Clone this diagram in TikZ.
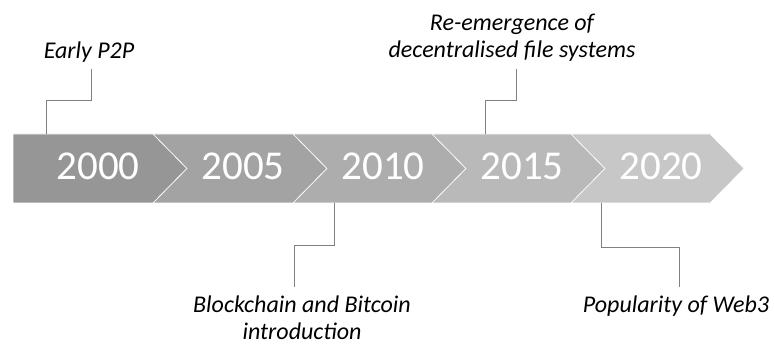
\documentclass[tikz,border=0pt]{standalone}
\usepackage{fontspec}
\setmainfont{Carlito}
\definecolor{band1}{RGB}{150,150,150}
\definecolor{band2}{RGB}{163,163,163}
\definecolor{band3}{RGB}{173,173,173}
\definecolor{band4}{RGB}{185,185,185}
\definecolor{band5}{RGB}{199,199,199}
\definecolor{leader}{RGB}{128,128,128}
\tikzset{
  chev/.style={draw=white, line width=0.6pt, line join=miter},
  yearlabel/.style={text=white, anchor=base, inner sep=0pt, font=\fontsize{41}{49}\selectfont},
  eventlabel/.style={text=black, anchor=base, inner sep=0pt, align=center,
    font=\fontsize{24}{27}\selectfont\itshape},
  leaderline/.style={draw=leader, line width=0.8pt}
}
\begin{document}
\begin{tikzpicture}[x=1pt, y=-1pt]
\useasboundingbox (0,0) rectangle (774,347);

% timeline band: one home plate followed by four chevrons
\fill[band1, chev] (13,134) -- (153,134) -- (187,168.5) -- (153,203) -- (13,203) -- cycle;
\fill[band2, chev] (153,134) -- (293,134) -- (327,168.5) -- (293,203) -- (153,203) -- (187,168.5) -- cycle;
\fill[band3, chev] (293,134) -- (432,134) -- (466,168.5) -- (432,203) -- (293,203) -- (327,168.5) -- cycle;
\fill[band4, chev] (432,134) -- (571,134) -- (605,168.5) -- (571,203) -- (432,203) -- (466,168.5) -- cycle;
\fill[band5, chev] (571,134) -- (710,134) -- (744,168.5) -- (710,203) -- (571,203) -- (605,168.5) -- cycle;

% years
\node[yearlabel] (y2000) at (98,180) {2000};
\node[yearlabel] (y2005) at (243,180) {2005};
\node[yearlabel] (y2010) at (383,180) {2010};
\node[yearlabel] (y2015) at (522,180) {2015};
\node[yearlabel] (y2020) at (661,180) {2020};

% events (base anchor sits on the last line)
\node[eventlabel] (p2p) at (89,59) {Early P2P};
\node[eventlabel] (dfs) at (512,58) {Re-emergence of\\decentralised file systems};
\node[eventlabel] (btc) at (302,340) {Blockchain and Bitcoin\\introduction};
\node[eventlabel] (web3) at (676,313) {Popularity of Web3};

% leader line end points
\coordinate (p2pband) at (46,134);
\coordinate (p2ptext) at (91,69);
\coordinate (dfsband) at (485,134);
\coordinate (dfstext) at (516,69);
\coordinate (btcband) at (334,203);
\coordinate (btctext) at (294,287);
\coordinate (webband) at (601,203);
\coordinate (webtext) at (679,287);

\draw[leaderline] (p2pband) -- (46,100) -| (p2ptext);
\draw[leaderline] (dfsband) -- (485,100) -| (dfstext);
\draw[leaderline] (btcband) -- (334,245) -| (btctext);
\draw[leaderline] (webband) -- (601,247) -| (webtext);
\end{tikzpicture}
\end{document}
